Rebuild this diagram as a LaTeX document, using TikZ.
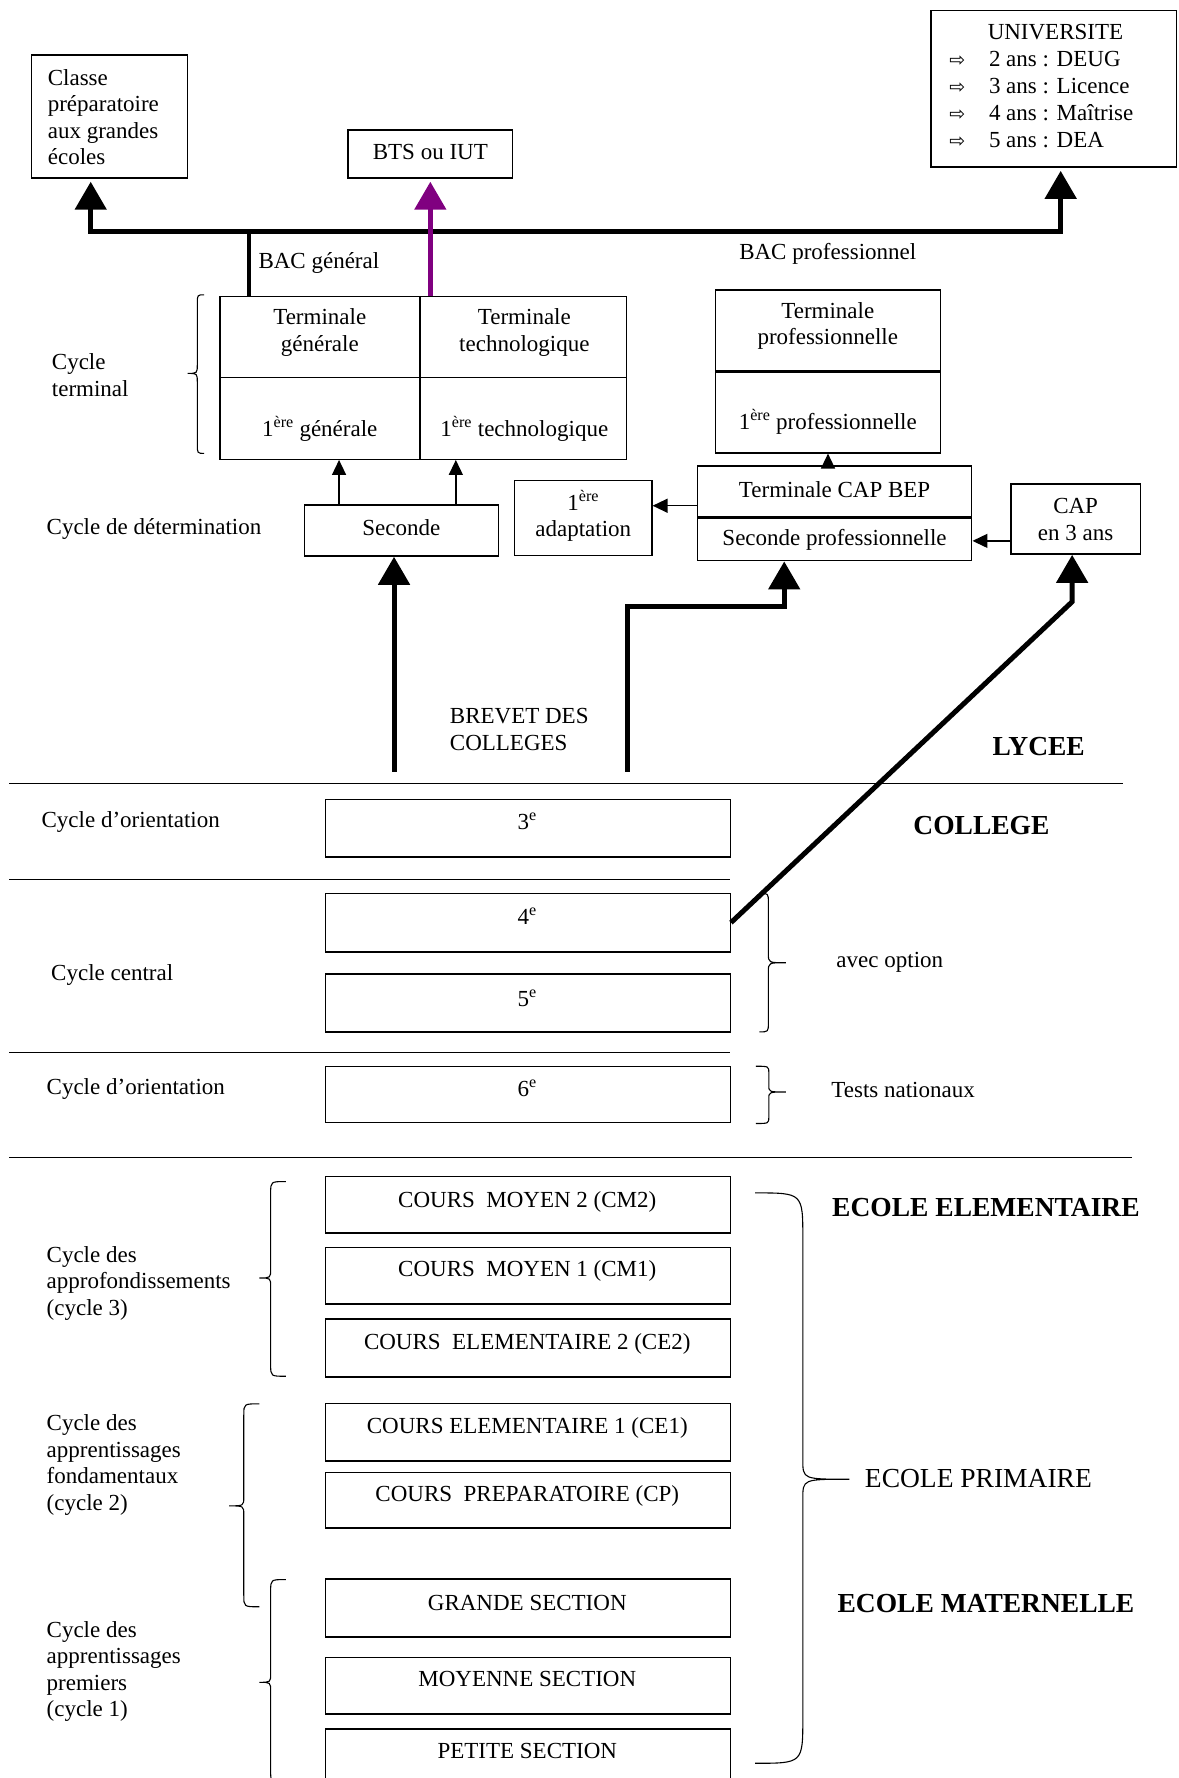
\documentclass[tikz,border=0pt]{standalone}
\usepackage{fontspec}
\setmainfont{Liberation Serif}
\newfontfamily\arrowfont{DejaVu Sans}
\usetikzlibrary{arrows.meta,fit}
\definecolor{bacpurple}{RGB}{128,0,128}
\newcommand\fsbody{\fontsize{23}{26.5}\selectfont}
\newcommand\fsbig{\fontsize{27.5}{31}\selectfont}
\newcommand\fsbold{\fontsize{27.5}{31}\selectfont\bfseries}
\newcommand\uarr{\makebox[39.7pt][l]{\arrowfont\fontsize{19}{19}\selectfont ⇨}}
% curly brace: end-x, middle-x, tip-x, top-y, tip-y, bottom-y, end radius, tip radius
\newcommand\curlybrace[8]{%
  \draw[bracel] (#1,#4) .. controls (#2,#4) .. (#2,#4+#7) -- (#2,#5-#8)
    .. controls (#2,#5) .. (#3,#5) .. controls (#2,#5) .. (#2,#5+#8)
    -- (#2,#6-#7) .. controls (#2,#6) .. (#1,#6);}
\begin{document}
\begin{tikzpicture}[x=1.1338pt,y=-1.1338pt,
  box/.style={draw,line width=1.4pt,inner sep=0pt},
  txt/.style={inner sep=0pt,align=center,font=\fsbody},
  ltxt/.style={inner sep=0pt,align=left,anchor=west,font=\fsbody},
  btxt/.style={inner sep=0pt,font=\fsbold},
  sepline/.style={line width=1.4pt},
  divline/.style={line width=2.6pt},
  bigarrow/.style={line width=5pt,line join=miter,-{Triangle[width=31pt,length=28pt]}},
  thinarrow/.style={line width=1.4pt,-{Triangle[width=14pt,length=15pt]}},
  bracel/.style={line width=1.1pt}
]
\useasboundingbox[fill=white] (0,0) rectangle (1039,1568);

% ---------- top destinations ----------
\node[box,fit={(27.7,48.5) (165.4,157)}] (cls) {};
\node[ltxt] (cls-t) at (42,103.5) {Classe\\préparatoire\\aux grandes\\écoles};
\node[box,fit={(307,114.7) (452,157)}] (bts) {};
\node[txt] (bts-t) at (379.5,134) {BTS ou IUT};
\node[box,fit={(821,9.5) (1037.5,147.4)}] (uni) {};
\node[txt] (uni-t) at (930.8,28.3) {UNIVERSITE};
\node[ltxt,font=\fontsize{23}{27}\selectfont] (uni-l) at (837,87.9)
  {\uarr 2 ans : DEUG\\\uarr 3 ans : Licence\\\uarr 4 ans : Maîtrise\\\uarr 5 ans : DEA};

\coordinate (barL) at (80,204);
\coordinate (barR) at (935.4,204);
\coordinate (bacg) at (219.7,204);

\node[ltxt] (bacg-t) at (227.8,232.3) {BAC général};
\node[txt] (bacp-t) at (730,223.7) {BAC professionnel};

% ---------- cycle terminal ----------
\node[box,fit={(194,261.7) (370.4,332.8)}] (tg) {};
\node[box,fit={(370.4,261.7) (552.7,332.8)}] (tt) {};
\node[box,fit={(194,332.8) (370.4,405)}] (pg) {};
\node[box,fit={(370.4,332.8) (552.7,405)}] (pt) {};
\node[txt] (tg-t) at (282,293.3) {Terminale\\générale};
\node[txt] (tt-t) at (462.4,293.3) {Terminale\\technologique};
\node[txt] (pg-t) at (282,377.8) {1\textsuperscript{ère} générale};
\node[txt] (pt-t) at (462.4,377.8) {1\textsuperscript{ère} technologique};

\node[box,fit={(631,255.8) (829.4,399.4)}] (pro) {};
\draw[divline] (631,327.6) -- (829.4,327.6);
\node[txt] (pro-t1) at (730,287.4) {Terminale\\professionnelle};
\node[txt] (pro-t2) at (730,371.7) {1\textsuperscript{ère} professionnelle};

\node[ltxt] (ct-t) at (45.6,330.7) {Cycle\\terminal};
\curlybrace{180}{174}{165.4}{260}{329.3}{399.8}{8}{8}

% ---------- cycle de détermination ----------
\node[ltxt] (cd-t) at (41,466.6) {Cycle de détermination};
\node[box,fit={(268.6,445.4) (439.7,490.4)}] (sec) {};
\node[txt] (sec-t) at (354,465.5) {Seconde};
\node[box,fit={(453.8,424) (574.9,490)}] (adap) {};
\node[txt] (adap-t) at (514.4,455) {1\textsuperscript{ère}\\adaptation};
\node[box,fit={(615,411) (857,494.5)}] (bep) {};
\draw[divline] (615,456.3) -- (857,456.3);
\node[txt] (bep-t1) at (736,432) {Terminale CAP BEP};
\node[txt] (bep-t2) at (736,476) {Seconde professionnelle};
\node[box,fit={(891.5,427) (1005.7,488.7)}] (cap) {};
\node[txt] (cap-t) at (948.6,458) {CAP\\en 3 ans};

% ---------- connectors top ----------
\draw[line width=5pt,line join=miter,shorten <=3pt,shorten >=3pt,
  {Triangle[width=31pt,length=28pt]}-{Triangle[width=31pt,length=28pt]}]
  (cls.south -| barL) -- (barL) -- (barR) -- (uni.south -| barR);
\draw[line width=4pt] (bacg) -- (bacg |- tg.north);
\draw[bigarrow,bacpurple,shorten >=3pt] (bts.south |- tt.north) -- (bts.south);

\coordinate (s1) at (299,445.4);
\coordinate (s2) at (402,445.4);
\draw[thinarrow] (sec.north -| s1) -- (s1 |- pg.south);
\draw[thinarrow] (sec.north -| s2) -- (s2 |- pt.south);
\draw[thinarrow] (bep.north -| pro.south) -- (pro.south);
\coordinate (a1) at (600,446);
\draw[thinarrow] (bep.west |- a1) -- (adap.east |- a1);
\coordinate (c1) at (875,477);
\draw[thinarrow] (cap.west |- c1) -- (bep.east |- c1);

% ---------- lycée / collège ----------
\node[ltxt] (brevet) at (396.6,643.5) {BREVET DES\\COLLEGES};
\node[btxt] (lycee) at (916,658) {LYCEE};
\draw[sepline] (8,691) -- (990,691);

\node[ltxt] (co1-t) at (36.5,725) {Cycle d'orientation};
\node[box,fit={(287,705) (644,755.6)}] (n3) {};
\node[txt] (n3-t) at (465,724) {3\textsuperscript{e}};
\node[btxt] (college) at (865.5,727.6) {COLLEGE};
\draw[sepline] (8,775.6) -- (644,775.6);

\node[box,fit={(287,787.9) (644,839.4)}] (n4) {};
\node[txt] (n4-t) at (465,808) {4\textsuperscript{e}};
\node[box,fit={(287,859) (644,910)}] (n5) {};
\node[txt] (n5-t) at (465,880) {5\textsuperscript{e}};
\node[ltxt] (cc-t) at (45,860) {Cycle central};
\curlybrace{669.6}{677.6}{693}{787.8}{849}{910}{8}{8}
\node[ltxt] (opt-t) at (737.5,849) {avec option};
\draw[sepline] (8,928) -- (644,928);

\node[box,fit={(287,940.3) (644,989.9)}] (n6) {};
\node[txt] (n6-t) at (465,960) {6\textsuperscript{e}};
\node[ltxt] (co2-t) at (41,960.7) {Cycle d'orientation};
\curlybrace{666.5}{678}{693}{940.3}{963}{990.8}{6}{6}
\node[ltxt] (tests-t) at (733,961) {Tests nationaux};
\draw[sepline] (8,1021) -- (998,1021);

% ---------- big arrows from collège ----------
\coordinate (brev1) at (347.5,680.6);
\draw[bigarrow] (brev1) -- (brev1 |- sec.south);
\coordinate (brev2) at (553.7,680.6);
\coordinate (bend2) at (691.6,535);
\draw[bigarrow] (brev2) |- (bend2) -- (bend2 |- bep.south);
\coordinate (bend3) at (945.5,530.7);
\draw[bigarrow] (n4.east) -- (bend3) -- (bend3 |- cap.south);

% ---------- école ----------
\node[box,fit={(287,1037.7) (644,1087.4)}] (cm2) {};
\node[txt] (cm2-t) at (465,1060) {COURS\ \ MOYEN 2 (CM2)};
\node[box,fit={(287,1100.3) (644,1150)}] (cm1) {};
\node[txt] (cm1-t) at (465,1121) {COURS\ \ MOYEN 1 (CM1)};
\node[box,fit={(287,1163.2) (644,1214.4)}] (ce2) {};
\node[txt] (ce2-t) at (465,1185) {COURS\ \ ELEMENTAIRE 2 (CE2)};
\node[box,fit={(287,1237.6) (644,1288.3)}] (ce1) {};
\node[txt] (ce1-t) at (465,1259) {COURS ELEMENTAIRE 1 (CE1)};
\node[box,fit={(287,1298.5) (644,1347.5)}] (cp) {};
\node[txt] (cp-t) at (465,1319) {COURS\ \ PREPARATOIRE (CP)};
\node[box,fit={(287,1392.6) (644,1443.8)}] (gs) {};
\node[txt] (gs-t) at (465,1414) {GRANDE SECTION};
\node[box,fit={(287,1461.8) (644,1511.5)}] (ms) {};
\node[txt] (ms-t) at (465,1481) {MOYENNE SECTION};
\node[box,fit={(287,1524.8) (644,1580)}] (ps) {};
\node[txt] (ps-t) at (465,1544.5) {PETITE SECTION};

\node[ltxt] (c3-t) at (41,1131.5) {Cycle des\\approfondissements\\(cycle 3)};
\curlybrace{252}{238.7}{228.7}{1042}{1127}{1213.7}{10}{8}
\node[ltxt] (c2-t) at (41,1292) {Cycle des\\apprentissages\\fondamentaux\\(cycle 2)};
\curlybrace{228.8}{215}{202}{1238}{1328}{1417}{10}{8}
\node[ltxt] (c1-t) at (41,1474) {Cycle des\\apprentissages\\premiers\\(cycle 1)};
\curlybrace{252}{238.7}{228.7}{1393}{1483.6}{1572}{10}{8}

\curlybrace{666}{708}{749}{1052}{1304.5}{1555}{40}{17}
\node[btxt] (elem) at (869.5,1064.5) {ECOLE ELEMENTAIRE};
\node[inner sep=0pt,anchor=west,font=\fsbig] (prim) at (762.6,1304) {ECOLE PRIMAIRE};
\node[btxt] (mat) at (869.5,1414) {ECOLE MATERNELLE};
\end{tikzpicture}
\end{document}
